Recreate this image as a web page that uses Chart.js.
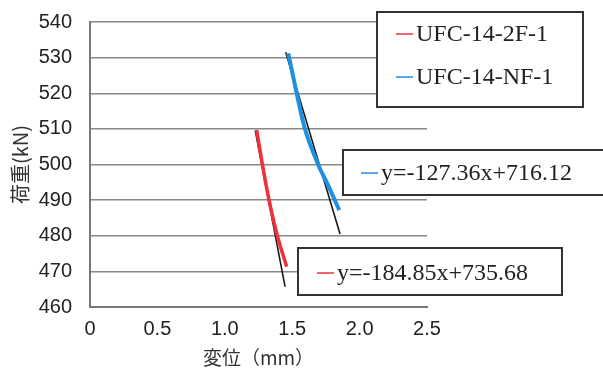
<!DOCTYPE html>
<html>
<head>
<meta charset="utf-8">
<script src="https://cdn.jsdelivr.net/npm/chart.js@4/dist/chart.umd.min.js"></script>
<style>
  html, body { margin: 0; padding: 0; background: #fff; }
  canvas { display: block; }
</style>
</head>
<body>
<canvas id="chart" width="603" height="373"></canvas>
<script>
// === データ ===
const seriesNames = ['UFC-14-2F-1', 'UFC-14-NF-1'];
const seriesColors = ['#f0303a', '#1f8fe0'];

// 変位(mm), 荷重(kN)
const red2F = [
    { x: 1.236, y: 509.7 },
    { x: 1.273, y: 501.3 },
    { x: 1.323, y: 491.0 },
    { x: 1.385, y: 480.7 },
    { x: 1.459, y: 471.3 }
];
const blueNF = [
    { x: 1.471, y: 531.2 },
    { x: 1.528, y: 520.9 },
    { x: 1.590, y: 510.6 },
    { x: 1.689, y: 500.3 },
    { x: 1.771, y: 493.8 },
    { x: 1.849, y: 487.2 }
];

// 近似直線 (端点)
const trend2F = [{ x: 1.226, y: 509.5 }, { x: 1.447, y: 465.7 }];
const trendNF = [{ x: 1.452, y: 531.5 }, { x: 1.855, y: 480.5 }];
const trendLabels = ['y=-184.85x+735.68', 'y=-127.36x+716.12'];

// 軸
const xTicks = [0, 0.5, 1, 1.5, 2, 2.5];
const yTicks = [460, 470, 480, 490, 500, 510, 520, 530, 540];

// === 凡例・数式ボックス ===
function drawBox(ctx, x, y, w, h) {
    ctx.save();
    ctx.fillStyle = '#fff';
    ctx.fillRect(x, y, w, h);
    ctx.strokeStyle = '#333';
    ctx.lineWidth = 2;
    ctx.strokeRect(x, y, w, h);
    ctx.restore();
}

function drawEntry(ctx, color, text, x, y) {
    ctx.save();
    ctx.strokeStyle = color;
    ctx.lineWidth = 1.5;
    ctx.beginPath();
    ctx.moveTo(x, y);
    ctx.lineTo(x + 17, y);
    ctx.stroke();
    ctx.fillStyle = '#222';
    ctx.font = '24px "Liberation Serif", serif';
    ctx.textBaseline = 'middle';
    ctx.fillText(text, x + 20, y + 1);
    ctx.restore();
}

const boxesPlugin = {
    id: 'boxes',
    afterDatasetsDraw(chart) {
        const ctx = chart.ctx;
        // 凡例
        drawBox(ctx, 377, 12, 206, 95);
        drawEntry(ctx, seriesColors[0], seriesNames[0], 396, 34);
        drawEntry(ctx, seriesColors[1], seriesNames[1], 396, 77);
        // 数式
        drawBox(ctx, 343, 150, 270, 45);
        drawEntry(ctx, seriesColors[1], trendLabels[1], 361, 173);
        drawBox(ctx, 298, 248, 264, 47);
        drawEntry(ctx, seriesColors[0], trendLabels[0], 317, 273);
    }
};

const xTickFont = { family: '"Liberation Sans", Arial, sans-serif', size: 20, lineHeight: 1 };
const yTickFont = { family: '"Liberation Sans", Arial, sans-serif', size: 20, lineHeight: 0.4 };

new Chart(document.getElementById('chart'), {
    type: 'scatter',
    data: {
        datasets: [
            {
                label: seriesNames[0],
                data: red2F,
                showLine: true,
                borderColor: seriesColors[0],
                borderWidth: 3.5,
                pointRadius: 0,
                cubicInterpolationMode: 'monotone'
            },
            {
                label: seriesNames[1],
                data: blueNF,
                showLine: true,
                borderColor: seriesColors[1],
                borderWidth: 4,
                pointRadius: 0,
                cubicInterpolationMode: 'monotone'
            },
            {
                label: 'trend 2F',
                data: trend2F,
                showLine: true,
                borderColor: '#1a1a1a',
                borderWidth: 1.6,
                pointRadius: 0
            },
            {
                label: 'trend NF',
                data: trendNF,
                showLine: true,
                borderColor: '#1a1a1a',
                borderWidth: 1.6,
                pointRadius: 0
            }
        ]
    },
    options: {
        responsive: false,
        animation: false,
        layout: { padding: { left: 0, top: 22, right: 176, bottom: 0 } },
        plugins: {
            legend: { display: false },
            tooltip: { enabled: false }
        },
        scales: {
            x: {
                type: 'linear',
                min: 0,
                max: 2.5,
                afterBuildTicks: (scale) => { scale.ticks = xTicks.map(v => ({ value: v })); },
                afterFit: (scale) => { scale.height = 66; },
                grid: { display: false, drawTicks: false },
                border: { display: true, color: '#777', width: 2 },
                ticks: { color: '#222', font: xTickFont, padding: 12, maxRotation: 0 },
                title: { display: true, text: '変位（mm）', color: '#333', font: { family: '"Noto Sans CJK JP", sans-serif', size: 19 }, padding: { top: 0, bottom: 4 } }
            },
            y: {
                type: 'linear',
                min: 460,
                max: 540,
                afterBuildTicks: (scale) => { scale.ticks = yTicks.map(v => ({ value: v })); },
                afterFit: (scale) => { scale.width = 90; },
                grid: { color: '#888', lineWidth: 1.5, drawTicks: false },
                border: { display: true, color: '#777', width: 2 },
                ticks: { color: '#222', font: yTickFont, padding: 18 },
                title: { display: true, text: '荷重(kN)', color: '#333', font: { family: '"Noto Sans CJK JP", sans-serif', size: 20 }, padding: { top: 8, bottom: 0 } }
            }
        }
    },
    plugins: [boxesPlugin]
});
</script>
</body>
</html>
